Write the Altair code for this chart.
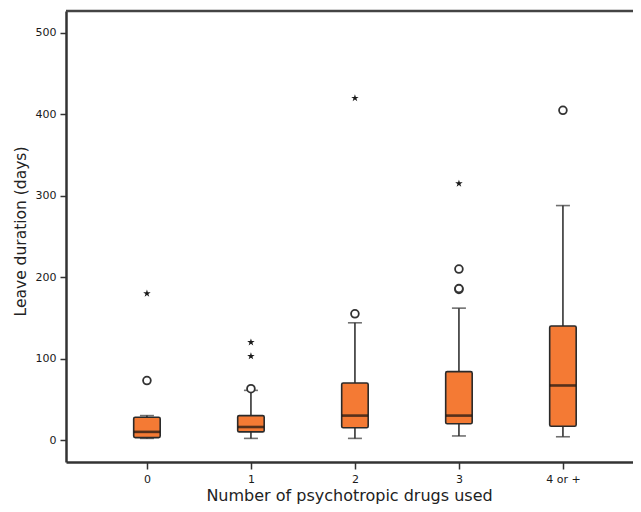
import altair as alt
import pandas as pd

# ---- data ----
groups = ["0", "1", "2", "3", "4 or +"]
lower_whisker = [2, 2, 2, 5, 4]
q1 = [3, 10, 15, 20, 17]
median = [10, 16, 30, 30, 67]
q3 = [28, 30, 70, 84, 140]
upper_whisker = [30, 61, 144, 162, 288]

circle_groups = ["0", "1", "2", "3", "3", "3", "4 or +"]
circle_values = [73, 63, 155, 185, 186, 210, 405]

star_groups = ["0", "1", "1", "2", "3"]
star_values = [180, 103, 120, 420, 315]

y_ticks = [0, 100, 200, 300, 400, 500]

summary = pd.DataFrame({
    "group": groups, "lo": lower_whisker, "q1": q1,
    "median": median, "q3": q3, "hi": upper_whisker,
})
circles = pd.DataFrame({"group": circle_groups, "value": circle_values})
stars = pd.DataFrame({"group": star_groups, "value": star_values})

W, H = 567, 451
FONT = "DejaVu Sans"
STAR = ("M0,-1L0.2245,-0.309L0.951,-0.309L0.363,0.118L0.588,0.809L0,0.382"
        "L-0.588,0.809L-0.363,0.118L-0.951,-0.309L-0.2245,-0.309Z")

x_enc = alt.X(
    "group:N",
    scale=alt.Scale(type="point", domain=groups, padding=0.726, align=0.536),
    axis=alt.Axis(
        title="Number of psychotropic drugs used", labelAngle=0,
        titleX=283, titleY=33, titleBaseline="middle", titleAnchor="middle",
        titleAlign="center",
    ),
)

def y_enc(field):
    return alt.Y(
        f"{field}:Q",
        scale=alt.Scale(domain=[-27, 527], nice=False, zero=False),
        axis=alt.Axis(
            title="Leave duration (days)", values=y_ticks,
            titleX=-46, titleY=220, titleBaseline="middle", titleAlign="center",
            titleAngle=-90, titleFontSize=15.5,
        ),
    )

base = alt.Chart(summary)

whisker = base.mark_rule(color="#333333", strokeWidth=1.6).encode(
    x=x_enc, y=y_enc("lo"), y2="hi"
)
box = base.mark_bar(
    size=26.5, fill="#F47A34", stroke="#2a2a2a", strokeWidth=1.6, cornerRadius=1.5
).encode(x=x_enc, y=y_enc("q1"), y2="q3")
med = base.mark_tick(color="#111111", size=26, thickness=2.6).encode(
    x=x_enc, y=y_enc("median")
)
cap_lo = base.mark_tick(color="#333333", size=14, thickness=1.6).encode(
    x=x_enc, y=y_enc("lo")
)
cap_hi = base.mark_tick(color="#333333", size=14, thickness=1.6).encode(
    x=x_enc, y=y_enc("hi")
)
circ = alt.Chart(circles).mark_point(
    shape="circle", size=60, filled=False, fill="white", fillOpacity=1,
    stroke="#333333", strokeWidth=1.8, opacity=1,
).encode(x=x_enc, y=y_enc("value"))
star = alt.Chart(stars).mark_point(
    shape=STAR, size=62, filled=True, color="#1a1a1a", opacity=1
).encode(x=x_enc, y=y_enc("value"))

top_line = alt.Chart(pd.DataFrame({"a": [0]})).mark_rule(
    color="#444444", strokeWidth=2.5
).encode(x=alt.value(0), x2=alt.value(W), y=alt.value(0))

chart = alt.layer(
    top_line, whisker, box, med, cap_lo, cap_hi, circ, star
).properties(
    width=W, height=H,
    padding={"left": 58, "top": 3, "right": 0, "bottom": 42},
    autosize=alt.AutoSizeParams(type="none"),
).configure_view(strokeWidth=0).configure_axis(
    grid=False,
    domainColor="#333333", domainWidth=2.5,
    tickColor="#333333", tickWidth=1.5, tickSize=7,
    labelFont=FONT, labelFontSize=11, labelColor="#1a1a1a", labelPadding=4,
    titleFont=FONT, titleFontSize=16, titleFontWeight="normal", titleColor="#222222",
).configure_axisY(tickSize=6, labelPadding=4)

chart.save("out.html", embed_options={"renderer": "svg", "actions": False})
